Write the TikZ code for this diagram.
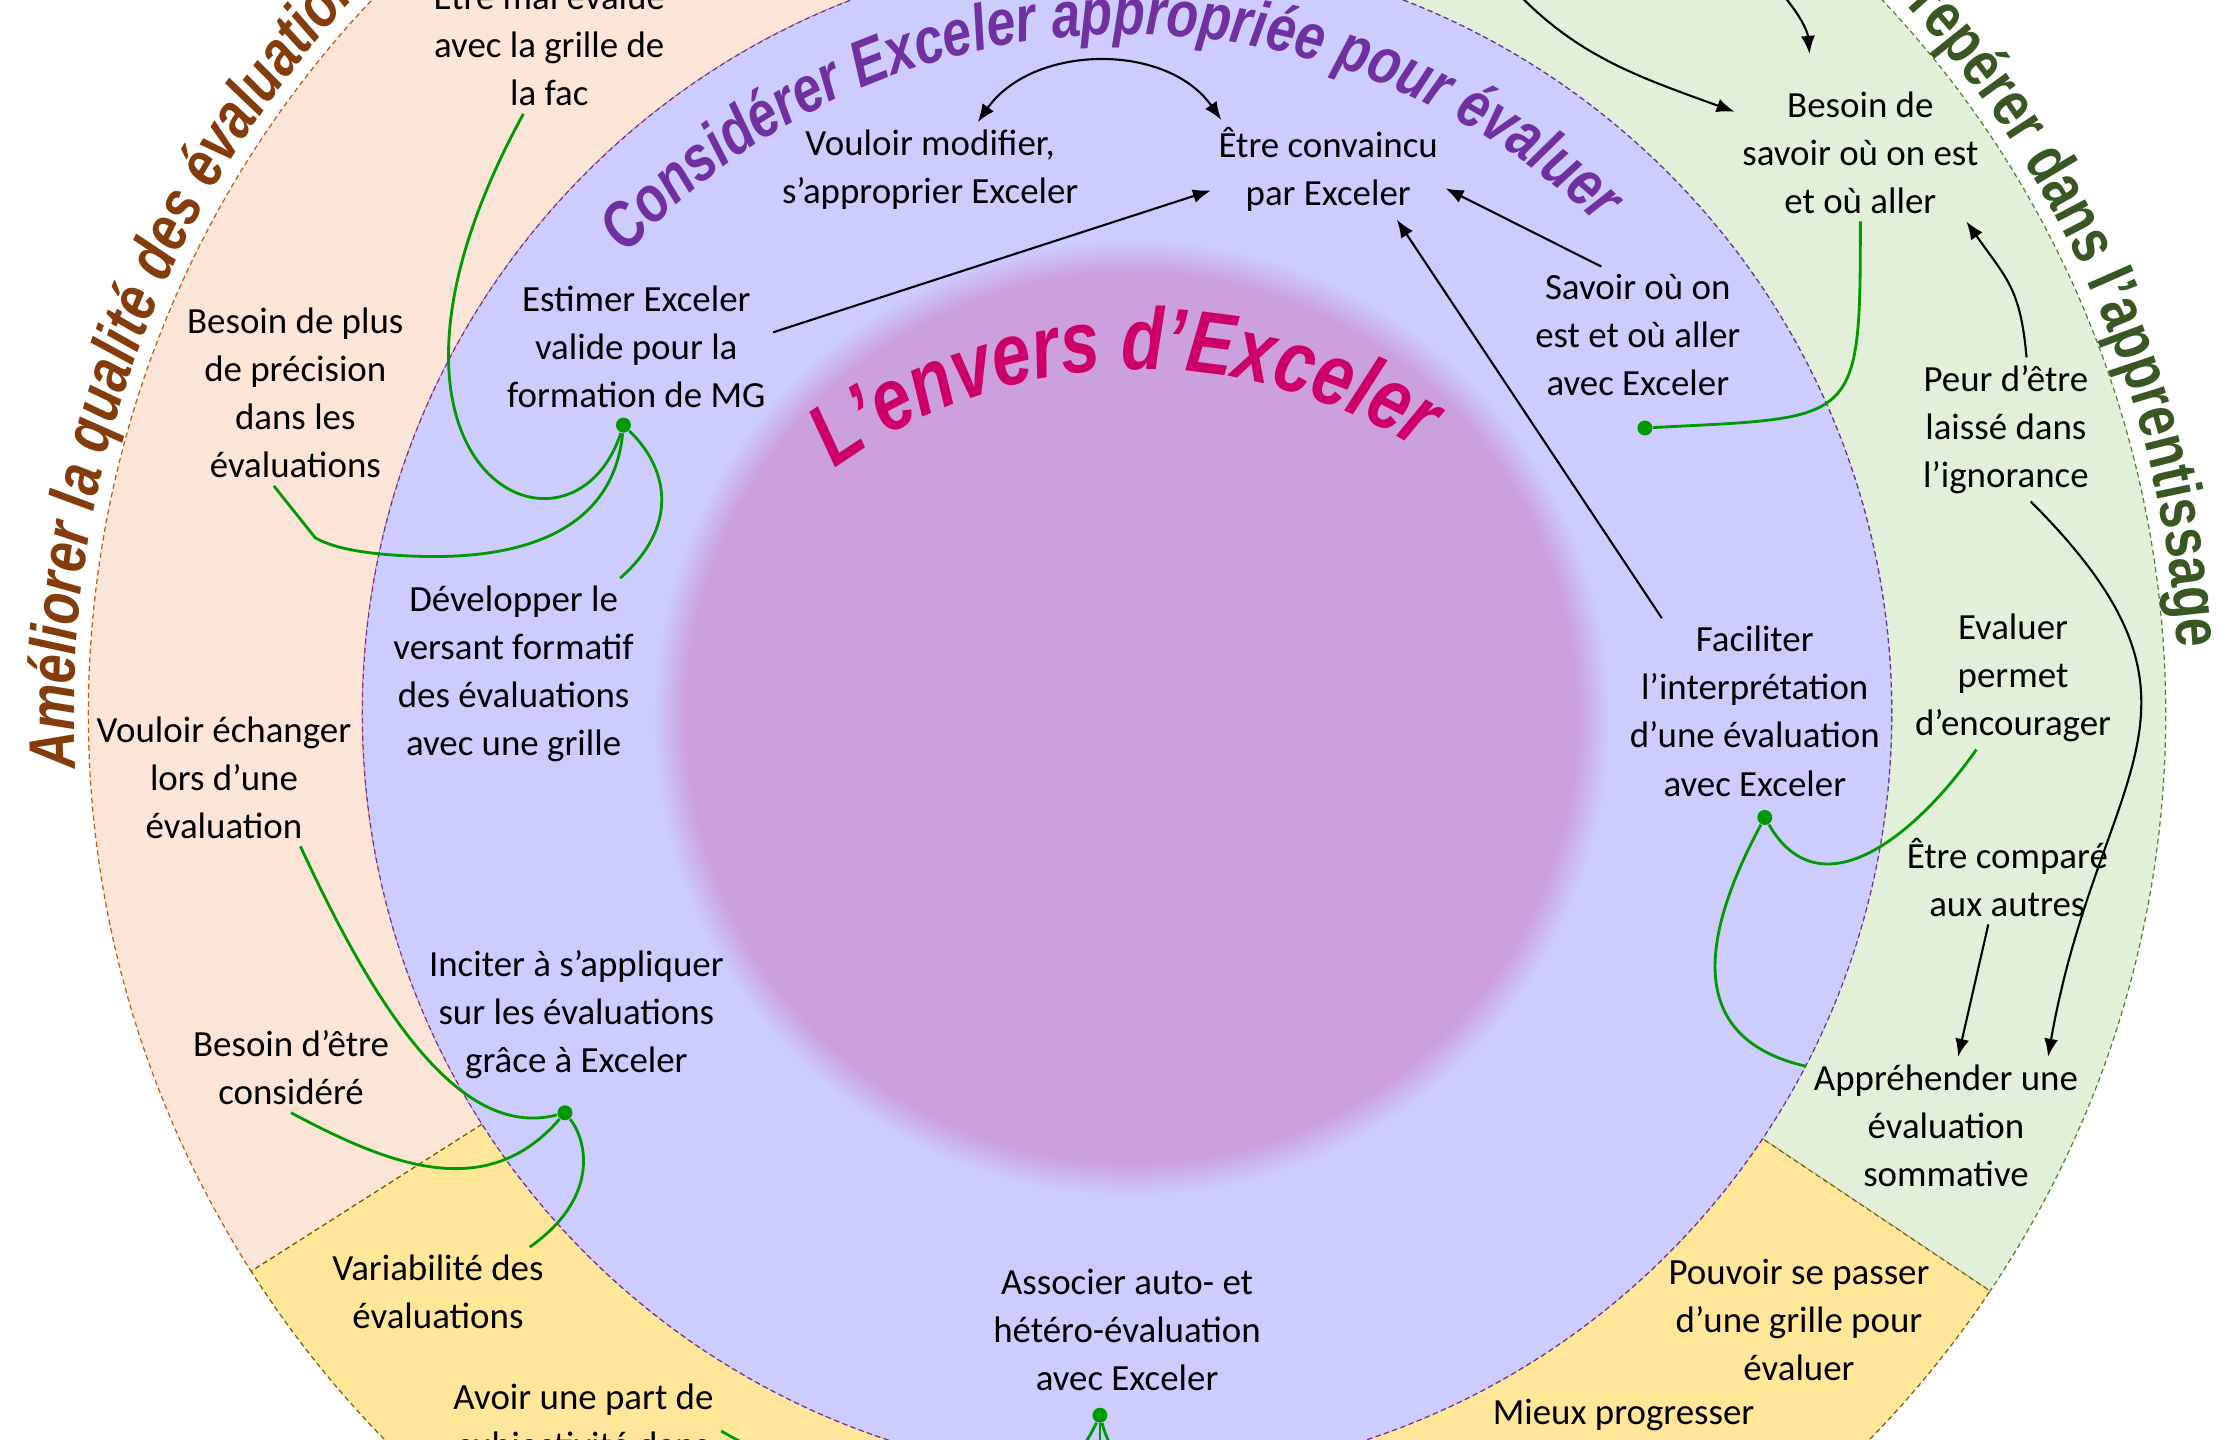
\documentclass[tikz,border=0pt]{standalone}
\usepackage{fontspec}
\setmainfont{Carlito}
\newfontfamily\arcfont[FakeStretch=0.8]{Liberation Sans}
\usetikzlibrary{arrows.meta,decorations.text}

\definecolor{ringblue}{RGB}{204,204,255}
\definecolor{blobpink}{RGB}{204,160,221}
\definecolor{peach}{RGB}{251,229,214}
\definecolor{sage}{RGB}{226,240,217}
\definecolor{gold}{RGB}{255,230,153}
\definecolor{brownline}{RGB}{197,90,17}
\definecolor{purpleline}{RGB}{112,48,160}
\definecolor{sageline}{RGB}{84,130,53}
\definecolor{goldline}{RGB}{127,96,0}
\definecolor{browntitle}{RGB}{132,60,12}
\definecolor{purpletitle}{RGB}{112,48,160}
\definecolor{pinktitle}{RGB}{204,0,102}
\definecolor{greentitle}{RGB}{56,87,35}
\definecolor{linkgreen}{RGB}{0,153,0}

\pgfdeclareradialshading{blob}{\pgfpointorigin}{color(0bp)=(blobpink); color(23.3bp)=(blobpink); color(25bp)=(ringblue); color(50bp)=(ringblue)}

\newcommand\titlefmt[1]{\arcfont\bfseries\itshape\fontsize{18.5pt}{21pt}\selectfont\color{#1}}

\begin{document}
\begin{tikzpicture}[
        x=0.14267mm, y=0.14267mm,
        >={Latex[length=1.8mm, width=1.4mm]},
        note/.style={align=center, inner sep=2pt, font=\fontsize{10.5pt}{13.7pt}\selectfont},
        hub/.style={circle, fill=linkgreen, inner sep=0pt, minimum size=1.5mm},
        link/.style={draw=linkgreen, line width=0.8pt},
        arrow/.style={draw, line width=0.6pt},
        border/.style={dash pattern=on 1.5pt off 1pt, line width=0.35pt},
        arctitle/.style={decorate, decoration={text along path, text align=left, text={#1}}},
    ]
    \useasboundingbox (-790,-509) rectangle (778,500);
    \clip (-790,-509) rectangle (778,500);

    \filldraw[fill=peach, draw=brownline, border] (212.5:536) -- (212.5:728) arc (212.5:90:728) -- (90:536) arc (90:212.5:536) -- cycle;
    \filldraw[fill=sage, draw=sageline, border] (-33.8:536) -- (-33.8:728) arc (-33.8:90:728) -- (90:536) arc (90:-33.8:536) -- cycle;
    \filldraw[fill=gold, draw=goldline, border] (212.5:536) -- (212.5:728) arc (212.5:326.2:728) -- (326.2:536) arc (326.2:212.5:536) -- cycle;
    \filldraw[fill=ringblue, draw=purpleline, border] (0,0) circle (536);
    \shade[shading=blob] (3,-3) circle (335);

    \path[arctitle={|\titlefmt{browntitle}|Améliorer la qualité des évaluations}] (183:738) arc (183:60:738);
    \path[arctitle={|\arcfont\bfseries\fontsize{18.5pt}{21pt}\selectfont\color{greentitle}|Se repérer dans l’apprentissage}] (46.5:738) arc (46.5:-40:738);
    \path[arctitle={|\titlefmt{purpletitle}|Considérer Exceler appropriée pour évaluer}] (137.5:476) arc (137.5:20:476);
    \path[shift={(10,-125)}, arctitle={|\arcfont\bfseries\itshape\fontsize{25pt}{28pt}\selectfont\color{pinktitle}|L’envers d’Exceler}] (126:366) arc (126:30:366);

    \node[note] (etremal) at (-405,470) {Être mal évalué\\avec la grille de\\la fac};
    \node[note] (modif) at (-138,381) {Vouloir modifier,\\s’approprier Exceler};
    \node[note] (convaincu) at (141,381) {Être convaincu\\par Exceler};
    \node[note] (besoinsavoir) at (514,393) {Besoin de\\savoir où on est\\et où aller};
    \node[note] (estimer) at (-344,257) {Estimer Exceler\\valide pour la\\formation de MG};
    \node[note] (savoiron) at (358,265) {Savoir où on\\est et où aller\\avec Exceler};
    \node[note] (precision) at (-583,224.5) {Besoin de plus\\de précision\\dans les\\évaluations};
    \node[note] (peur) at (616,199) {Peur d’être\\laissé dans\\l’ignorance};
    \node[note] (developper) at (-430,27.5) {Développer le\\versant formatif\\des évaluations\\avec une grille};
    \node[note] (faciliter) at (440,1.5) {Faciliter\\l’interprétation\\d’une évaluation\\avec Exceler};
    \node[note] (encourager) at (621,25) {Evaluer\\permet\\d’encourager};
    \node[note] (echanger) at (-633,-45) {Vouloir échanger\\lors d’une\\évaluation};
    \node[note] (compare) at (617,-115) {Être comparé\\aux autres};
    \node[note] (inciter) at (-386,-211) {Inciter à s’appliquer\\sur les évaluations\\grâce à Exceler};
    \node[note] (considere) at (-586,-248.5) {Besoin d’être\\considéré};
    \node[note] (sommative) at (574,-289) {Appréhender une\\évaluation\\sommative};
    \node[note] (variabilite) at (-483,-405.5) {Variabilité des\\évaluations};
    \node[note] (associer) at (0,-432) {Associer auto- et\\hétéro-évaluation\\avec Exceler};
    \node[note] (passer) at (471,-425) {Pouvoir se passer\\d’une grille pour\\évaluer};
    \node[note] (subjectivite) at (-381,-498) {Avoir une part de\\subjectivité dans};
    \node[note] (progresser) at (348,-492) {Mieux progresser};

    \coordinate (fromtopA) at (260,520);
    \coordinate (fromtopB) at (430,530);
    \coordinate (belowmid) at (-19,-570);
    \coordinate (belowright) at (25,-570);

    \draw[arrow, <->] (modif.45) to[out=55, in=125] (convaincu.155);
    \draw[arrow, ->] (estimer.6) -- (convaincu.190);
    \draw[arrow, ->] (savoiron.118) -- (convaincu.-9);
    \draw[arrow, ->] (faciliter.135) -- (convaincu.-36);
    \draw[arrow, ->] (fromtopA) to[out=-50, in=160] (besoinsavoir.162);
    \draw[arrow, ->, shorten >=3mm] (fromtopB) to[out=-35, in=95] (besoinsavoir.125);
    \draw[arrow, ->] (peur.74) to[out=95, in=-55, looseness=1.2] (besoinsavoir.-33);
    \draw[arrow, ->] (peur.-71) to[out=-45, in=80, looseness=1.35] (sommative.34);
    \draw[arrow, ->] (compare.-112) -- (sommative.80);

    \node[hub] (hubA) at (-353,202) {};
    \node[hub] (hubB) at (363,200) {};
    \node[hub] (hubC) at (447,-73) {};
    \node[hub] (hubD) at (-394,-280) {};
    \node[hub] (hubE) at (-19,-492) {};

    \draw[link] (hubA) .. controls (-390,90) and (-560,170) .. (etremal.-110);
    \draw[link] (hubA) .. controls (-360,130) and (-420,108) .. (-495,110) .. controls (-530,111) and (-555,115) .. (-569,123) -- (precision.-103);
    \draw[link] (hubA) .. controls (-320,170) and (-315,130) .. (developper.42);
    \draw[link] (hubB) to[out=3, in=-90, looseness=1.8] (besoinsavoir.south);
    \draw[link] (hubC) to[out=-60, in=-125, looseness=1.2] (encourager.-117);
    \draw[link] (hubC) .. controls (395,-170) and (400,-230) .. (sommative.157);
    \draw[link] (echanger.-42) .. controls (-530,-200) and (-470,-300) .. (hubD);
    \draw[link] (considere.south) .. controls (-520,-315) and (-450,-345) .. (hubD);
    \draw[link] (hubD) .. controls (-378,-300) and (-370,-340) .. (variabilite.26);
    \draw[link] (hubE) to[out=-115, in=-30] (subjectivite.-3);
    \draw[link] (hubE) -- (belowmid);
    \draw[link] (hubE) to[out=-75, in=110] (belowright);
\end{tikzpicture}
\end{document}
